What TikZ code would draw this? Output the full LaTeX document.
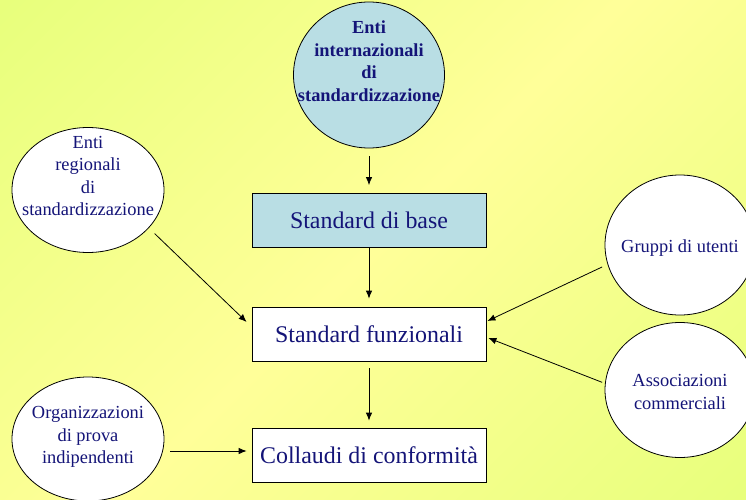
\documentclass[tikz,border=0pt]{standalone}
\usepackage{fontspec}
\setmainfont{Liberation Serif}
\usetikzlibrary{shapes,arrows.meta,positioning}
\definecolor{navytext}{RGB}{20,20,120}
\definecolor{paleblue}{RGB}{185,222,228}
\definecolor{bgyellow}{RGB}{255,255,153}
\definecolor{bggreen}{RGB}{222,255,112}
\pgfdeclarehorizontalshading{slidebg}{100bp}{color(0bp)=(bggreen); color(50bp)=(bgyellow); color(100bp)=(bggreen)}
\tikzstyle{stdbox} = [draw,line width=0.8pt,rectangle,minimum width=234pt,minimum height=54pt,inner sep=0,text=navytext,font=\fontsize{23.9}{28}\selectfont]
\tikzstyle{body} = [draw,line width=0.8pt,ellipse,fill=white,inner sep=0]
\tikzstyle{circtext} = [align=center,text=navytext,font=\fontsize{18.4}{22.5}\selectfont]
\tikzstyle{link} = [-{Latex[length=8pt,width=6.5pt]},line width=0.8pt]
\def \gap {8pt}

\begin{document}
\begin{tikzpicture}[x=1pt,y=-1pt]
  \useasboundingbox (0,0) rectangle (746,500);
  \clip (0,0) rectangle (746,500);
  \shade[shading=slidebg,shading angle=-45] (0,0) rectangle (746,500);
  % bodies
  \node[body,fill=paleblue,minimum width=151pt,minimum height=146pt,
        label={[circtext,yshift=14pt,font=\fontsize{18.4}{22.5}\selectfont\bfseries]center:Enti\\internazionali\\di\\standardizzazione}] (intl) at (369,75) {};
  \node[body,minimum width=152pt,minimum height=125pt,
        label={[circtext,yshift=14pt]center:Enti\\regionali\\di\\standardizzazione}] (reg) at (88,190) {};
  \node[body,minimum width=150pt,minimum height=140pt,
        label={[circtext,yshift=-3pt]center:Gruppi di utenti}] (users) at (680,245) {};
  \node[body,minimum width=150pt,minimum height=135pt,
        label={[circtext,yshift=-2pt]center:Associazioni\\commerciali}] (assoc) at (680,390) {};
  \node[body,minimum width=152pt,minimum height=124pt,
        label={[circtext,yshift=2pt]center:Organizzazioni\\di prova\\indipendenti}] (org) at (88,439) {};
  % standards
  \node[stdbox,fill=paleblue] (base) at (369,220.5) {Standard di base};
  \node[stdbox,fill=white] (func) at (369,334) {Standard funzionali};
  \node[stdbox,fill=white] (coll) at (369,455) {Collaudi di conformità};
  % arrows
  \draw[link,shorten <=\gap,shorten >=\gap] (intl) -- (base);
  \draw[link,shorten >=\gap] (base) -- (func);
  \draw[link,shorten <=7pt,shorten >=7pt] (func) -- (coll);
  \draw[link,shorten <=8pt] (reg.-32) -- ([xshift=-5pt,yshift=12pt]func.west);
  \draw[link,shorten <=6pt] (users.195) -- ([xshift=1pt,yshift=13pt]func.east);
  \draw[link,shorten <=3pt] (assoc.175) -- ([xshift=2pt,yshift=-4pt]func.east);
  \draw[link] ([xshift=6pt,yshift=-12pt]org.east) -- ([xshift=-5pt,yshift=4pt]coll.west);
\end{tikzpicture}
\end{document}
